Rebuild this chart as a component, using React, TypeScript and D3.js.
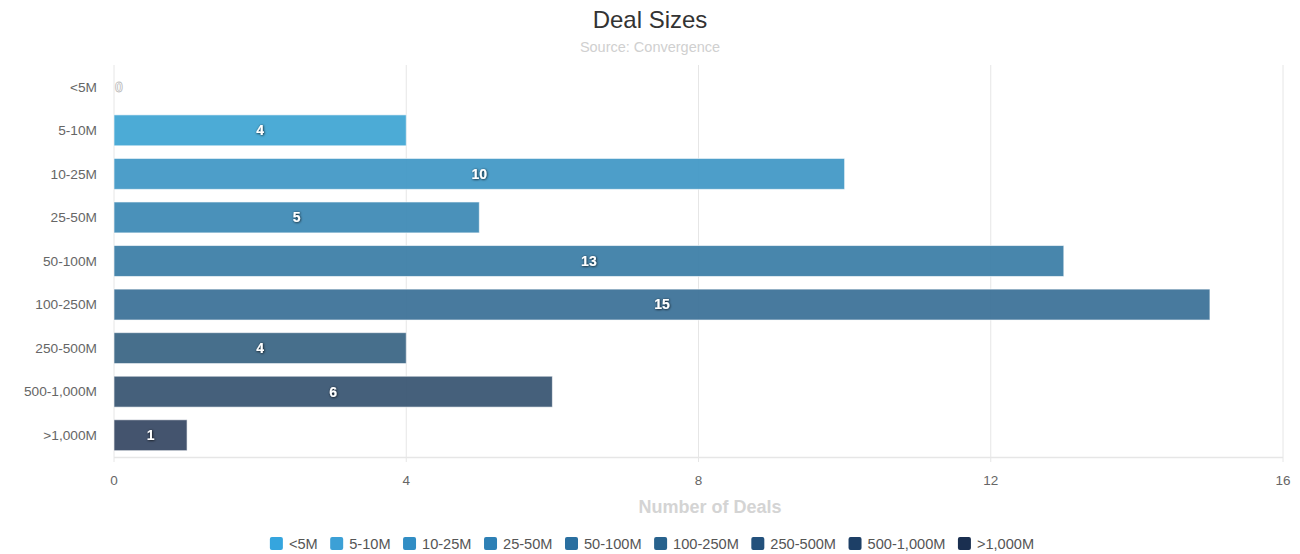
import React from "react";
import * as d3 from "d3";

const categories = ["<5M", "5-10M", "10-25M", "25-50M", "50-100M", "100-250M", "250-500M", "500-1,000M", ">1,000M"];
const values = [0, 4, 10, 5, 13, 15, 4, 6, 1];
const xTicks = [0, 4, 8, 12, 16];
const barColors = ["#44aadc", "#42a6d4", "#4399c6", "#408bb6", "#3e80a8", "#3e7399", "#3d6786", "#3b5774", "#3a4b66"];
const legendColors = ["#35a5de", "#3ca0d6", "#318dc4", "#2e80b5", "#2a6fa0", "#28628d", "#23517c", "#1d3f66", "#1a2f50"];

const W = 1300;
const H = 554;
const M = { left: 114, right: 1283, top: 65, bottom: 457 };
const FONT = "'Liberation Sans', Arial, sans-serif";

export default function App() {
  const x = d3.scaleLinear().domain([0, 16]).range([M.left, M.right]);
  const y = d3.scaleBand<string>().domain(categories).range([M.top, M.bottom]).paddingInner(0.29).paddingOuter(0.145);

  const legendFont = 14.6;
  const ctx = document.createElement("canvas").getContext("2d")!;
  ctx.font = `${legendFont}px ${FONT}`;
  const items = categories.map((c) => ({ c, w: ctx.measureText(c).width }));
  const sq = 13;
  const gapSqText = 6;
  const gapItem = 12.5;
  const total = items.reduce((a, it) => a + sq + gapSqText + it.w, 0) + gapItem * (items.length - 1);
  let cursor = 652 - total / 2;
  const legendPos = items.map((it) => {
    const p = cursor;
    cursor += sq + gapSqText + it.w + gapItem;
    return p;
  });

  return (
    <svg width={W} height={H} style={{ position: "absolute", left: 0, top: 0, background: "#fff" }} fontFamily={FONT}>
      <defs>
        <filter id="ts" x="-50%" y="-50%" width="200%" height="200%">
          <feDropShadow dx="0.5" dy="0.5" stdDeviation="1" floodColor="#000" floodOpacity="0.9" />
        </filter>
      </defs>
      <text x={W / 2} y={28} textAnchor="middle" fontSize={24} fill="#333">Deal Sizes</text>
      <text x={W / 2} y={52} textAnchor="middle" fontSize={14.5} fill="#d0d0d0">Source: Convergence</text>

      {xTicks.map((t) => (
        <line key={t} x1={x(t)} x2={x(t)} y1={M.top} y2={M.bottom + 5} stroke="#e6e6e6" strokeWidth={1} />
      ))}
      <line x1={M.left} x2={M.right} y1={M.bottom + 0.5} y2={M.bottom + 0.5} stroke="#e6e6e6" strokeWidth={1.5} />

      {categories.map((c, i) => (
        <g key={c}>
          <rect x={x(0)} y={y(c)!} width={x(values[i]) - x(0)} height={y.bandwidth()} fill={barColors[i]} fillOpacity={0.95} stroke="#fff" strokeOpacity={0.6} strokeWidth={1} />
          <text x={97} y={y(c)! + y.bandwidth() / 2} dy="0.35em" textAnchor="end" fontSize={13.7} fill="#666">{c}</text>
          <text
            x={values[i] === 0 ? x(0) + 5 : (x(0) + x(values[i])) / 2}
            y={y(c)! + y.bandwidth() / 2}
            dy="0.35em"
            textAnchor="middle"
            fontSize={14}
            fontWeight="bold"
            fill="#fff"
            stroke={values[i] === 0 ? "#bbb" : "none"}
            strokeWidth={values[i] === 0 ? 0.8 : 0}
            filter={values[i] === 0 ? undefined : "url(#ts)"}
          >
            {values[i]}
          </text>
        </g>
      ))}

      {xTicks.map((t) => (
        <text key={t} x={x(t)} y={480} dy="0.35em" textAnchor="middle" fontSize={13.5} fill="#666">{t}</text>
      ))}
      <text x={710} y={507} dy="0.35em" textAnchor="middle" fontSize={18} fontWeight="bold" fill="#d4d4d4">Number of Deals</text>

      {items.map((it, i) => (
        <g key={it.c}>
          <rect x={legendPos[i]} y={537} width={sq} height={sq} rx={2} fill={legendColors[i]} />
          <text x={legendPos[i] + sq + gapSqText} y={543.5} dy="0.35em" fontSize={legendFont} fill="#555">{it.c}</text>
        </g>
      ))}
    </svg>
  );
}
